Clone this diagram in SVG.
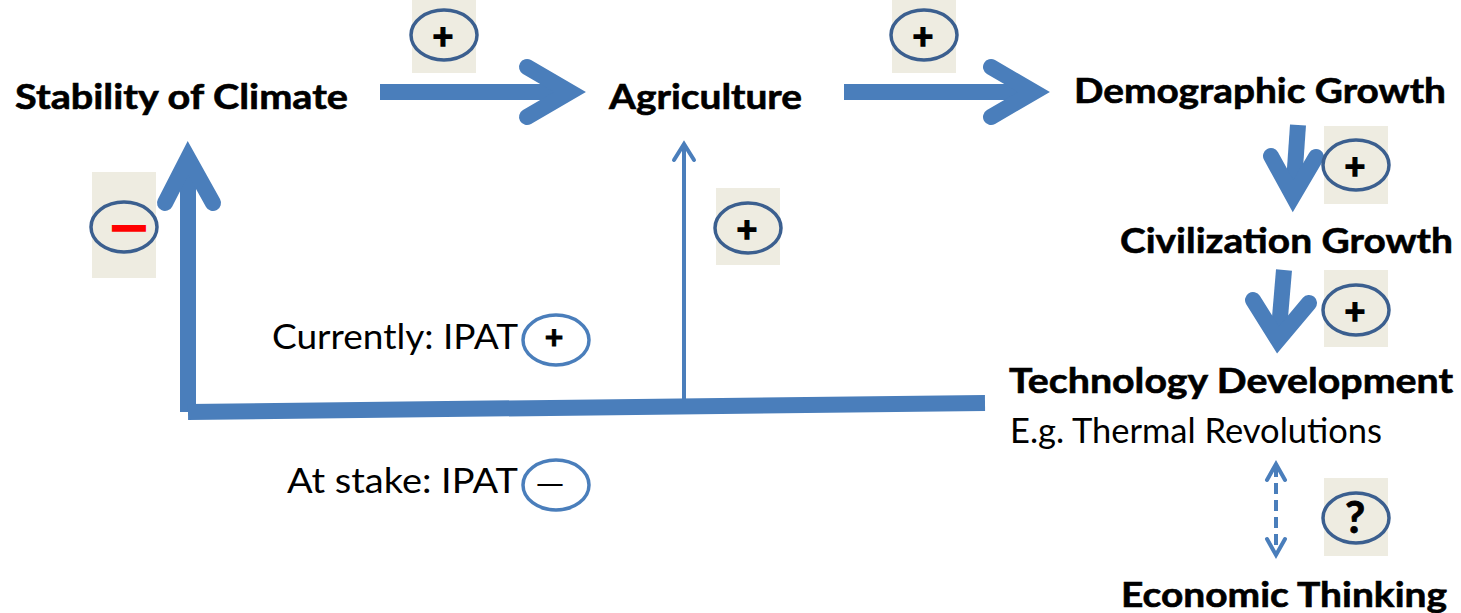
<svg xmlns="http://www.w3.org/2000/svg" width="1461" height="613" viewBox="0 0 1461 613">
<defs>
<style>
.h{font-family:Lato,"Open Sans",sans-serif;font-weight:bold;font-size:35px;fill:#000;stroke:#000;stroke-width:0.6}
.r{font-family:Lato,"Open Sans",sans-serif;font-weight:normal;font-size:35px;fill:#000}
.sym{font-family:Lato,"Open Sans",sans-serif;font-weight:bold;font-size:36px;fill:#000;text-anchor:middle;stroke:#000;stroke-width:1.4}
.bx{fill:#eeece1}
.el{fill:none;stroke:#3b5f8f;stroke-width:3.5}
.el2{fill:none;stroke:#4a7ebb;stroke-width:3.5}
.thick{fill:none;stroke:#4a7ebb;stroke-width:16;stroke-linecap:butt}
.head{fill:none;stroke:#4a7ebb;stroke-width:16;stroke-linecap:round;stroke-linejoin:miter;stroke-miterlimit:6}
.thin{fill:none;stroke:#4a7ebb;stroke-width:4}
.thinhead{fill:none;stroke:#4a7ebb;stroke-width:4;stroke-linecap:round;stroke-linejoin:miter}
</style>
</defs>
<rect width="1461" height="613" fill="#fff"/>
<g id="connectors">
<path class="thick" d="M380,92 H571"/>
<path class="head" d="M527,67 L570,92 L527,117"/>
<path class="thick" d="M844,92 H1035"/>
<path class="head" d="M991,67 L1034,92 L991,117"/>
<path class="thick" d="M1298,125 L1293,197"/>
<path class="head" d="M1271,156 L1293,196 L1316,157"/>
<path class="thick" d="M1284,270 L1278,341"/>
<path class="head" d="M1253,300 L1278,340 L1309,303"/>
<path class="thick" d="M188,412 V157"/>
<path class="head" d="M165,203 L188,158 L213,203"/>
<path class="thick" d="M188,412 L985,403"/>
<path class="thin" d="M684,405 V147"/>
<path class="thinhead" d="M674,160 L684,144 L694,160"/>
<path class="thin" d="M1276,466 V553" stroke-dasharray="11,6"/>
<path class="thinhead" d="M1267,480 L1276,464 L1285,480"/>
<path class="thinhead" d="M1267,539 L1276,555 L1285,539"/>
</g>
<g id="stability"><text class="h" x="15" y="109" textLength="333" lengthAdjust="spacingAndGlyphs">Stability of Climate</text></g>
<g id="agriculture"><text class="h" x="609" y="109" textLength="193" lengthAdjust="spacingAndGlyphs">Agriculture</text></g>
<g id="demographic"><text class="h" x="1074" y="103" textLength="372" lengthAdjust="spacingAndGlyphs">Demographic Growth</text></g>
<g id="civilization"><text class="h" x="1120" y="253" textLength="333" lengthAdjust="spacingAndGlyphs">Civilization Growth</text></g>
<g id="technology">
<text class="h" x="1009" y="393" textLength="444" lengthAdjust="spacingAndGlyphs">Technology Development</text>
<text class="r" x="1010" y="443" textLength="372" lengthAdjust="spacingAndGlyphs">E.g. Thermal Revolutions</text>
</g>
<g id="economic"><text class="h" x="1121" y="607" textLength="326" lengthAdjust="spacingAndGlyphs">Economic Thinking</text></g>
<g id="currently">
<text class="r" x="272" y="349" textLength="246" lengthAdjust="spacingAndGlyphs">Currently: IPAT</text>
<ellipse class="el2" cx="556" cy="340" rx="33" ry="25"/>
<text class="sym" x="554" y="349" style="font-size:32px;stroke-width:1">+</text>
</g>
<g id="atstake">
<text class="r" x="287" y="493" textLength="231" lengthAdjust="spacingAndGlyphs">At stake: IPAT</text>
<ellipse class="el2" cx="556" cy="485" rx="33" ry="25"/>
<text class="sym" x="550" y="494" style="font-size:30px;font-weight:normal;stroke-width:0" textLength="30" lengthAdjust="spacingAndGlyphs">—</text>
</g>
<g id="badge1"><rect class="bx" x="412" y="0" width="64" height="73"/><ellipse class="el" cx="444" cy="35" rx="33" ry="25"/><text class="sym" x="443" y="49">+</text></g>
<g id="badge2"><rect class="bx" x="892" y="0" width="64" height="73"/><ellipse class="el" cx="924" cy="35" rx="33" ry="25"/><text class="sym" x="923" y="49">+</text></g>
<g id="badge3"><rect class="bx" x="92" y="172" width="64" height="106"/><ellipse class="el" cx="124" cy="227" rx="33" ry="25"/><text class="sym" x="129" y="239" style="fill:#f00;stroke:#f00;stroke-width:3.5" textLength="35" lengthAdjust="spacingAndGlyphs">—</text></g>
<g id="badge4"><rect class="bx" x="716" y="188" width="64" height="77"/><ellipse class="el" cx="748" cy="228" rx="33" ry="25"/><text class="sym" x="747" y="242">+</text></g>
<g id="badge5"><rect class="bx" x="1324" y="126" width="64" height="78"/><ellipse class="el" cx="1356" cy="165" rx="33" ry="25"/><text class="sym" x="1355" y="179">+</text></g>
<g id="badge6"><rect class="bx" x="1324" y="270" width="64" height="77"/><ellipse class="el" cx="1356" cy="310" rx="33" ry="25"/><text class="sym" x="1355" y="324">+</text></g>
<g id="badge7"><rect class="bx" x="1324" y="478" width="64" height="78"/><ellipse class="el" cx="1356" cy="518" rx="33" ry="25"/><text class="sym" x="1355" y="533" style="font-size:44px;stroke-width:0.8">?</text></g>
</svg>
